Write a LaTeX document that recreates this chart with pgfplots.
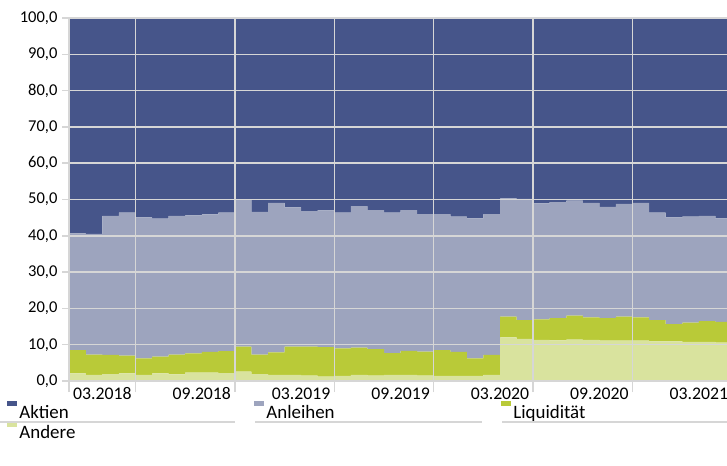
\documentclass[border=0pt]{standalone}
\usepackage{pgfplots}
\usepackage{pgfplotstable}
\pgfplotsset{compat=1.18}
\usepackage{fontspec}
\setmainfont{Carlito}
\definecolor{cAkt}{HTML}{46558A}
\definecolor{cAnl}{HTML}{9DA4BE}
\definecolor{cLiq}{HTML}{B9CA38}
\definecolor{cAnd}{HTML}{D9E39E}
\definecolor{cGrid}{HTML}{D6D6D6}

\pgfplotstableread{
x and liq anl akt
0 2.1 6.4 32.2 59.3
1 1.7 5.6 33.2 59.5
2 1.9 5.3 38.3 54.5
3 2.1 4.9 39.4 53.6
4 1.7 4.5 38.9 54.9
5 2.1 4.6 38.0 55.3
6 1.8 5.5 38.2 54.5
7 2.3 5.3 38.0 54.4
8 2.3 5.7 37.9 54.1
9 2.2 6.0 38.2 53.6
10 2.6 6.9 40.4 50.1
11 1.9 5.4 39.3 53.4
12 1.7 6.2 41.2 50.9
13 1.7 7.8 38.3 52.2
14 1.5 8.0 37.3 53.2
15 1.2 8.1 37.7 53.0
16 1.4 7.6 37.4 53.6
17 1.7 7.5 39.0 51.8
18 1.5 7.3 38.3 52.9
19 1.7 6.0 38.7 53.6
20 1.7 6.6 38.8 52.9
21 1.5 6.6 37.9 54.0
22 1.4 7.1 37.5 54.0
23 1.4 6.6 37.3 54.7
24 1.4 4.8 38.6 55.2
25 1.7 5.5 38.8 54.0
26 12.0 5.7 32.6 49.7
27 11.6 5.2 33.4 49.8
28 11.3 5.7 31.9 51.1
29 11.2 6.1 32.0 50.7
30 11.4 6.6 31.7 50.3
31 11.3 6.2 31.6 50.9
32 11.1 6.2 30.7 52.0
33 11.1 6.6 31.1 51.2
34 11.1 6.4 31.6 50.9
35 10.9 5.9 29.6 53.6
36 10.9 4.8 29.4 54.9
37 10.8 5.3 29.2 54.7
38 10.8 5.7 29.0 54.5
39 10.6 5.7 28.5 55.2
40 10.6 5.7 28.5 55.2
}\data

\begin{document}
\begin{tikzpicture}
\useasboundingbox (-69.2bp,-85bp) rectangle (657.8bp,381bp);
\begin{axis}[
  at={(0,0)}, anchor=south west,
  scale only axis, width=657.8bp, height=363bp,
  xmin=0, xmax=39.7, ymin=0, ymax=100,
  stack plots=y, const plot mark left,
  axis on top,
  axis lines*=left,
  axis line style={cGrid, line width=1.5bp, -},
  grid style={cGrid, line width=1.5bp},
  ymajorgrids, xmajorgrids,
  ytick={0,10,...,100},
  xtick={0,4,10,16,22,28,34},
  xticklabels={{},{},{},{},{},{},{}},
  extra x ticks={2,8,14,20,26,32,38},
  extra x tick labels={03.2018,09.2018,03.2019,09.2019,03.2020,09.2020,03.2021},
  extra x tick style={grid=none, xtick style={/pgfplots/major tick length=0pt},
    xticklabel style={yshift=1bp, font=\fontsize{17.8}{20}\selectfont}},
  tick align=outside,
  tick style={cGrid, line width=1.5bp},
  xtick style={/pgfplots/major tick length=11bp},
  ytick style={/pgfplots/major tick length=7bp},
  ticklabel style={text=black},
  yticklabel style={font=\fontsize{16.6}{20}\selectfont, xshift=-4bp},
  /pgf/number format/.cd, fixed, fixed zerofill, precision=1, use comma, assume math mode=true,
  /pgfplots/.cd,
  legend columns=3, reverse legend,
  legend style={at={(axis description cs:0,0)}, anchor=north west,
    xshift=-62bp, yshift=-20bp, draw=none, fill=none, inner sep=0pt,
    font=\fontsize{19}{22}\selectfont,
    /tikz/every even column/.append style={column sep=0pt}, row sep=0bp},
  legend image code/.code={\fill[#1] (0bp,6bp) rectangle (10bp,11bp);},
]
\addplot[fill=cAnd, draw=none] table[x=x, y=and] {\data} \closedcycle;
\addlegendentry{\makebox[233bp][l]{Andere}}
\addplot[fill=cLiq, draw=none] table[x=x, y=liq] {\data} \closedcycle;
\addlegendentry{\makebox[233bp][l]{Liquidität}}
\addplot[fill=cAnl, draw=none] table[x=x, y=anl] {\data} \closedcycle;
\addlegendentry{\makebox[233bp][l]{Anleihen}}
\addplot[fill=cAkt, draw=none] table[x=x, y=akt] {\data} \closedcycle;
\addlegendentry{\makebox[233bp][l]{Aktien}}
\end{axis}
\draw[cGrid, line width=1.2bp] (-69.2bp,-41bp) -- ++(235bp,0);
\draw[cGrid, line width=1.2bp] (-69.2bp+255bp,-41bp) -- ++(227bp,0);
\draw[cGrid, line width=1.2bp] (-69.2bp+502bp,-41bp) -- ++(227bp,0);
\end{tikzpicture}
\end{document}
